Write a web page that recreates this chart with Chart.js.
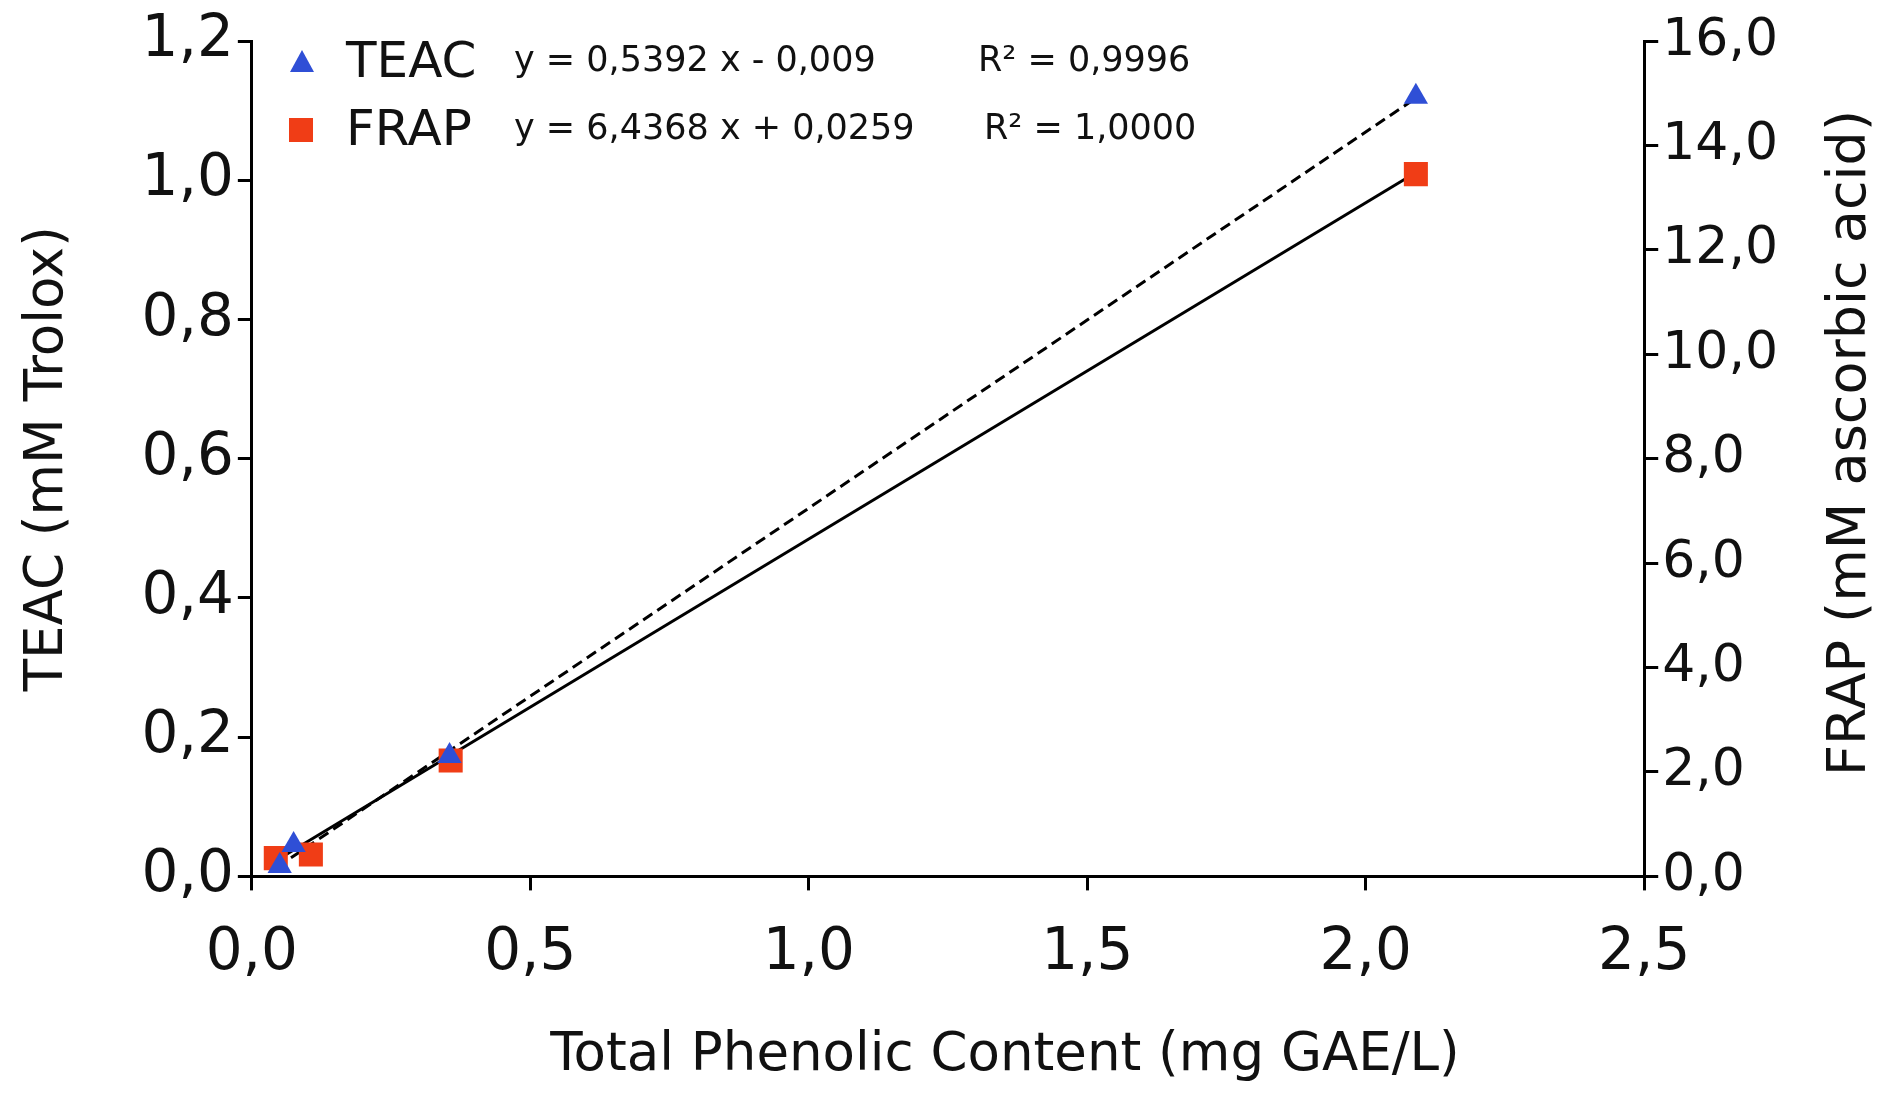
<!DOCTYPE html>
<html>
<head>
<meta charset="utf-8">
<script src="https://cdn.jsdelivr.net/npm/chart.js@4/dist/chart.umd.min.js"></script>
<style>
  html, body { margin: 0; padding: 0; background: #ffffff; }
  #wrap { width: 1881px; height: 1095px; position: relative; }
</style>
</head>
<body>
<div id="wrap"><canvas id="c" width="1881" height="1095"></canvas></div>
<script>
// ---- data ----
const seriesNames = ['TEAC', 'FRAP'];
const teacX = [0.05, 0.075, 0.355, 2.09];
const teacY = [0.015, 0.045, 0.173, 1.12];
const frapX = [0.043, 0.106, 0.357, 2.09];
const frapY = [0.35, 0.42, 2.22, 13.45];
// trendline end points
const teacTrendX = [0.045, 2.09];
const teacTrendY = [0.013, 1.118];
const frapTrendX = [0.043, 2.09];
const frapTrendY = [0.30, 13.48];
// legend texts
const equations = ['y = 0,5392 x - 0,009', 'y = 6,4368 x + 0,0259'];
const rSquared = ['R\u00B2 = 0,9996', 'R\u00B2 = 1,0000'];
// axis titles
const xTitle = 'Total Phenolic Content (mg GAE/L)';
const yLeftTitle = 'TEAC (mM Trolox)';
const yRightTitle = 'FRAP (mM ascorbic acid)';
// axis ticks
const xTicks = [0, 0.5, 1.0, 1.5, 2.0, 2.5];
const yLeftTicks = [0, 0.2, 0.4, 0.6, 0.8, 1.0, 1.2];
const yRightTicks = [0, 2, 4, 6, 8, 10, 12, 14, 16];

const BLUE = '#2f4fd6';
const RED = '#f03d16';
const FONT = "'DejaVu Sans', sans-serif";

const pts = (xs, ys) => xs.map((x, i) => ({ x: x, y: ys[i] }));
const fmt = v => Number(v).toFixed(1).replace('.', ',');

const decorPlugin = {
  id: 'decor',
  afterDraw(chart) {
    const ctx = chart.ctx;
    ctx.save();
    // legend with equations
    const rows = [
      { y: 62, color: BLUE, shape: 'tri' },
      { y: 130, color: RED, shape: 'sq' }
    ];
    const rX = [978, 984];
    rows.forEach((r, i) => {
      ctx.fillStyle = r.color;
      if (r.shape === 'tri') {
        ctx.beginPath();
        ctx.moveTo(302, r.y - 12);
        ctx.lineTo(314, r.y + 10);
        ctx.lineTo(290, r.y + 10);
        ctx.closePath();
        ctx.fill();
      } else {
        ctx.fillRect(289, r.y - 12, 24, 24);
      }
      ctx.fillStyle = '#111';
      ctx.textBaseline = 'middle';
      ctx.textAlign = 'left';
      ctx.font = '50px ' + FONT;
      ctx.fillText(seriesNames[i], 346, r.y + 2);
      ctx.font = '35px ' + FONT;
      ctx.fillText(equations[i], 514, r.y);
      ctx.fillText(rSquared[i], rX[i], r.y);
    });
    // x axis title (slightly right of centre as in the reference)
    ctx.font = '53px ' + FONT;
    ctx.textAlign = 'center';
    ctx.textBaseline = 'middle';
    ctx.fillText(xTitle, 1005, 1056);
    // right axis title, reading bottom-to-top
    ctx.font = '54px ' + FONT;
    ctx.translate(1851, 443);
    ctx.rotate(-Math.PI / 2);
    ctx.fillText(yRightTitle, 0, 0);
    ctx.restore();
  }
};

const axisCommon = {
  border: { display: true, color: '#000', width: 3 },
  grid: { drawOnChartArea: false, drawTicks: true, tickLength: 14, color: '#000', lineWidth: 3 },
};

new Chart(document.getElementById('c'), {
  type: 'scatter',
  data: {
    datasets: [
      {
        label: 'TEAC', data: pts(teacX, teacY), yAxisID: 'y',
        pointStyle: 'triangle', pointRadius: 14, backgroundColor: BLUE, borderColor: BLUE, borderWidth: 0,
        showLine: false, order: 0
      },
      {
        label: 'FRAP', data: pts(frapX, frapY), yAxisID: 'y1',
        pointStyle: 'rect', pointRadius: 17, backgroundColor: RED, borderColor: RED, borderWidth: 0,
        showLine: false, order: 1
      },
      {
        label: 'TEAC trend', data: pts(teacTrendX, teacTrendY), yAxisID: 'y',
        showLine: true, pointRadius: 0, borderColor: '#000', borderWidth: 3, borderDash: [11, 6],
        fill: false, order: 3
      },
      {
        label: 'FRAP trend', data: pts(frapTrendX, frapTrendY), yAxisID: 'y1',
        showLine: true, pointRadius: 0, borderColor: '#000', borderWidth: 3,
        fill: false, order: 2
      }
    ]
  },
  options: {
    responsive: false,
    animation: false,
    layout: { padding: { left: 16, right: 99, top: 41, bottom: 77 } },
    plugins: { legend: { display: false }, tooltip: { enabled: false } },
    scales: {
      x: {
        type: 'linear', min: 0, max: 2.5,
        afterBuildTicks: s => { s.ticks = xTicks.map(v => ({ value: v })); },
        ticks: { callback: v => fmt(v), color: '#111', font: { family: FONT, size: 58 }, padding: 29, maxRotation: 0 },
        ...axisCommon
      },
      y: {
        type: 'linear', position: 'left', min: 0, max: 1.2,
        afterBuildTicks: s => { s.ticks = yLeftTicks.map(v => ({ value: v })); },
        ticks: { callback: v => fmt(v), color: '#111', font: { family: FONT, size: 58 }, padding: 4 },
        title: { display: true, text: yLeftTitle, color: '#111',
                 font: { family: FONT, size: 53 }, padding: { top: 0, bottom: 58 } },
        ...axisCommon
      },
      y1: {
        type: 'linear', position: 'right', min: 0, max: 16,
        afterBuildTicks: s => { s.ticks = yRightTicks.map(v => ({ value: v })); },
        ticks: { callback: v => fmt(v), color: '#111', font: { family: FONT, size: 52 }, padding: 4 },
        ...axisCommon
      }
    }
  },
  plugins: [decorPlugin]
});
</script>
</body>
</html>
